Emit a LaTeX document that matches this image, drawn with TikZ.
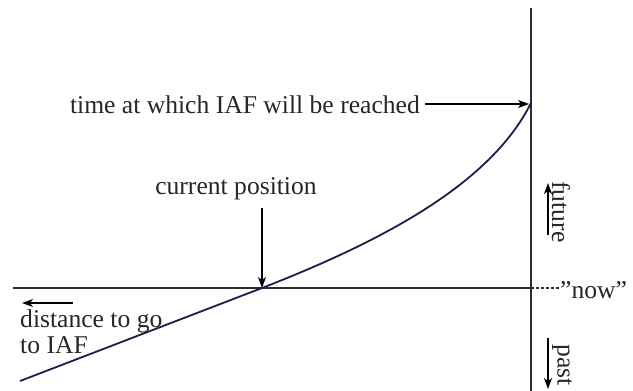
\documentclass[tikz,border=0pt]{standalone}
\usepackage{fontspec}
\setmainfont{Liberation Serif}
\usetikzlibrary{arrows.meta}
\definecolor{axisgray}{RGB}{45,45,45}
\definecolor{curvenavy}{RGB}{30,28,75}
\tikzset{
  axisline/.style={draw=axisgray, line width=1.4pt},
  curveline/.style={draw=curvenavy, line width=1.8pt},
  pointer/.style={draw=black, line width=1.3pt, -{Stealth[length=11pt,width=8pt,inset=3pt]}},
  lbl/.style={font=\fontsize{25.6}{30}\selectfont, text=black!85, inner sep=0pt},
}
\begin{document}
\begin{tikzpicture}[x=1pt,y=-1pt]
\useasboundingbox (0,0) rectangle (633,391);
% axes
\coordinate (ha) at (13,288);
\coordinate (origin) at (531,288);
\coordinate (vtop) at (531,8);
\coordinate (vbot) at (531,391);
\coordinate (nowend) at (559,288);
\draw[axisline] (ha) -- (origin);
\draw[axisline] (vtop) -- (vbot);
\draw[axisgray, line width=1.3pt, dash pattern=on 3pt off 2pt] (origin) -- (nowend);
% curve
\coordinate (cstart) at (20,381);
\coordinate (cpos) at (262,288);
\coordinate (iaf) at (531,103);
\draw[curveline] (cstart) -- (cpos) .. controls (380,242) and (490,185) .. (iaf);
% labels
\node[lbl, anchor=base east] (tlabel) at (420,113) {time at which IAF will be reached};
\coordinate (tarrow) at (425,104);
\coordinate (tend) at (529,104);
\draw[pointer] (tarrow) -- (tend);
\node[lbl, anchor=base] (cplabel) at (236,194) {current position};
\coordinate (cparrow) at (262,208);
\draw[pointer] (cparrow) -- (cpos);
\node[lbl, anchor=base west] (dist1) at (20,327) {distance to go};
\node[lbl, anchor=base west] (dist2) at (20,353) {to IAF};
\coordinate (da) at (73,303);
\coordinate (db) at (22,303);
\draw[pointer] (da) -- (db);
\node[lbl, anchor=base west] (now) at (560,298) {''now''};
\node[lbl, rotate=-90] (future) at (561,212) {future};
\coordinate (fa) at (548,235);
\coordinate (fb) at (548,183);
\draw[pointer] (fa) -- (fb);
\node[lbl, rotate=-90] (past) at (562,365) {past};
\coordinate (pa) at (548,338);
\coordinate (pb) at (548,389);
\draw[pointer] (pa) -- (pb);
\end{tikzpicture}
\end{document}
